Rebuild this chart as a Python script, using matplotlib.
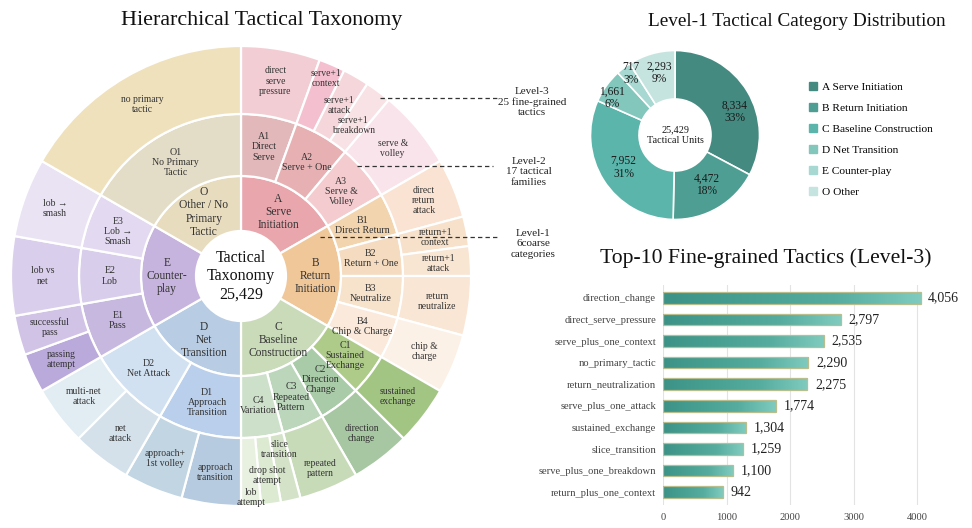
import numpy as np
import matplotlib
matplotlib.use("Agg")
import matplotlib.pyplot as plt
from matplotlib.lines import Line2D
from matplotlib.colors import LinearSegmentedColormap

plt.rcParams['font.family'] = ['Liberation Serif', 'DejaVu Serif']

# ---------------- data ----------------
l1_labels = ["A\nServe\nInitiation", "B\nReturn\nInitiation", "C\nBaseline\nConstruction",
             "D\nNet\nTransition", "E\nCounter-\nplay", "O\nOther / No\nPrimary\nTactic"]
l1_colors = ["#E9A6AD", "#F0C799", "#CADBBA", "#B8CCE4", "#C6B4DE", "#E8DCBE"]

l2_labels = [
    ["A1\nDirect\nServe", "A2\nServe + One", "A3\nServe &\nVolley"],
    ["B1\nDirect Return", "B2\nReturn + One", "B3\nNeutralize", "B4\nChip & Charge"],
    ["C1\nSustained\nExchange", "C2\nDirection\nChange", "C3\nRepeated\nPattern", "C4\nVariation"],
    ["D1\nApproach\nTransition", "D2\nNet Attack"],
    ["E1\nPass", "E2\nLob", "E3\nLob →\nSmash"],
    ["O1\nNo Primary\nTactic"],
]
l2_colors = [
    ["#E2B8BA", "#E7B1B4", "#F4CBCE"],
    ["#F2D4AE", "#F5DCC0", "#F7E2CB", "#FBEADB"],
    ["#AECB8A", "#A9CBA7", "#BBD6BA", "#CDE0CA"],
    ["#BACFEB", "#D2E1F1"],
    ["#C7B8E0", "#D8CDEB", "#E3DAF1"],
    ["#E3DCC6"],
]
l3_labels = [
    [["direct\nserve\npressure"], ["serve+1\ncontext", "serve+1\nattack", "serve+1\nbreakdown"], ["serve &\nvolley"]],
    [["direct\nreturn\nattack"], ["return+1\ncontext", "return+1\nattack"], ["return\nneutralize"], ["chip &\ncharge"]],
    [["sustained\nexchange"], ["direction\nchange"], ["repeated\npattern"], ["slice\ntransition", "drop shot\nattempt", "lob\nattempt"]],
    [["approach\ntransition", "approach+\n1st volley"], ["net\nattack", "multi-net\nattack"]],
    [["passing\nattempt", "successful\npass"], ["lob vs\nnet"], ["lob →\nsmash"]],
    [["no primary\ntactic"]],
]
l3_colors = [
    [["#F2CED4"], ["#F4C0CF", "#F5D6DB", "#F8E2E5"], ["#FAE4EB"]],
    [["#FAE3D2"], ["#F7E1CA", "#F8E5D2"], ["#F9E6D5"], ["#FCF1E7"]],
    [["#A3C584"], ["#A7C7A2"], ["#C8DBB9"], ["#D4E3C8", "#DDEAD2", "#E8F1E0"]],
    [["#B6CBE0", "#C2D5E3"], ["#D4E1EA", "#E2EDF3"]],
    [["#BAA9DB", "#D0C3E6"], ["#D9CEEB"], ["#EAE3F4"]],
    [["#F0E1BD"]],
]
total_units = 25429

cat_names = ["A Serve Initiation", "B Return Initiation", "C Baseline Construction",
             "D Net Transition", "E Counter-play", "O Other"]
cat_counts = [8334, 4472, 7952, 1661, 717, 2293]
cat_pcts = [33, 18, 31, 6, 3, 9]
cat_colors = ["#448A80", "#4E9E93", "#5CB5AA", "#82C6BC", "#A7D8D1", "#C6E4DF"]

top_tactics = ["direction_change", "direct_serve_pressure", "serve_plus_one_context",
               "no_primary_tactic", "return_neutralization", "serve_plus_one_attack",
               "sustained_exchange", "slice_transition", "serve_plus_one_breakdown",
               "return_plus_one_context"]
top_counts = [4056, 2797, 2535, 2290, 2275, 1774, 1304, 1259, 1100, 942]

# ---------------- figure ----------------
W, H = 972, 528
fig = plt.figure(figsize=(W / 100, H / 100), dpi=100)
fig.patch.set_facecolor("white")


def fx(x):
    return x / W


def fy(y):
    return 1 - y / H


txt = "#333333"

# ---------------- sunburst ----------------
cx, cy, R3 = 241, 276, 230
R0, R1, R2 = 45, 100, 162
ax1 = fig.add_axes([fx(cx - R3), fy(cy + R3), 2 * R3 / W, 2 * R3 / H])

s1, s2, s3, c2, c3, t2, t3 = [], [], [], [], [], [], []
for i in range(len(l1_labels)):
    share1 = 1.0 / len(l1_labels)
    s1.append(share1)
    for j, lab2 in enumerate(l2_labels[i]):
        share2 = share1 / len(l2_labels[i])
        s2.append(share2)
        c2.append(l2_colors[i][j])
        t2.append(lab2)
        for k, lab3 in enumerate(l3_labels[i][j]):
            s3.append(share2 / len(l3_labels[i][j]))
            c3.append(l3_colors[i][j][k])
            t3.append(lab3)

wp = dict(edgecolor="white", linewidth=1.6)
w1, _ = ax1.pie(s1, radius=R1, colors=l1_colors, startangle=90, counterclock=False,
                wedgeprops=dict(width=R1 - R0, **wp))
w2, _ = ax1.pie(s2, radius=R2, colors=c2, startangle=90, counterclock=False,
                wedgeprops=dict(width=R2 - R1, **wp))
w3, _ = ax1.pie(s3, radius=R3, colors=c3, startangle=90, counterclock=False,
                wedgeprops=dict(width=R3 - R2, **wp))
ax1.set_xlim(-R3, R3)
ax1.set_ylim(-R3, R3)
ax1.set_aspect("equal")
ax1.axis("off")


def put(ax, wedge, r, label, size, dang=0.0):
    a = np.deg2rad((wedge.theta1 + wedge.theta2) / 2 + dang)
    ax.text(r * np.cos(a), r * np.sin(a), label, ha="center", va="center",
            fontsize=size, color=txt, linespacing=1.15)


for w, lab in zip(w1, l1_labels):
    put(ax1, w, 74, lab, 8.3)
for w, lab in zip(w2, t2):
    put(ax1, w, 131, lab, 7.1)
r3_special = {"serve+1\ncontext": 215, "serve+1\nattack": 197, "serve+1\nbreakdown": 188,
              "slice\ntransition": 178, "drop shot\nattempt": 201, "lob\nattempt": 222,
              "repeated\npattern": 208}
for w, lab in zip(w3, t3):
    put(ax1, w, r3_special.get(lab, 198), lab, 6.9)

ax1.text(0, 0, "Tactical\nTaxonomy\n" + f"{total_units:,}", ha="center", va="center",
         fontsize=11.5, color="#111111", linespacing=1.2)

fig.text(fx(262), fy(21), "Hierarchical Tactical Taxonomy", ha="center", va="center",
         fontsize=15.8, color="#111111")

# annotation lines
for (x0, x1, y), (tx, ty), t in [
    ((380, 497, 98), (532, 102), "Level-3\n25 fine-grained\ntactics"),
    ((357, 493, 166), (529, 172), "Level-2\n17 tactical\nfamilies"),
    ((320, 498, 237), (533, 244), "Level-1\n6coarse\ncategories"),
]:
    fig.add_artist(Line2D([fx(x0), fx(x1)], [fy(y), fy(y)], transform=fig.transFigure,
                          color="#333333", lw=0.9, ls=(0, (3.5, 2.5))))
    fig.text(fx(tx), fy(ty), t, ha="center", va="center", fontsize=8.0, color="#222222",
             linespacing=1.2)

# ---------------- donut ----------------
dcx, dcy, dR, dr = 675, 135, 84.5, 36
ax2 = fig.add_axes([fx(dcx - dR), fy(dcy + dR), 2 * dR / W, 2 * dR / H])
wd, _ = ax2.pie(cat_counts, radius=1, colors=cat_colors, startangle=90, counterclock=False,
                wedgeprops=dict(width=1 - dr / dR, edgecolor="white", linewidth=1.2))
ax2.set_xlim(-1, 1)
ax2.set_ylim(-1, 1)
ax2.set_aspect("equal")
ax2.axis("off")
label_place = [(-10, 0.76), (2, 0.70), (0, 0.72), (5, 0.86), (-2, 0.90), (-2, 0.76)]
for w, v, p, (da, r) in zip(wd, cat_counts, cat_pcts, label_place):
    a = np.deg2rad((w.theta1 + w.theta2) / 2 + da)
    ax2.text(r * np.cos(a), r * np.sin(a), f"{v:,}\n{p}%", ha="center", va="center",
             fontsize=8.3, color="#1a1a1a", linespacing=1.1)
ax2.text(0, 0, f"{total_units:,}\nTactical Units", ha="center", va="center",
         fontsize=7.3, color="#1a1a1a", linespacing=1.25)

handles = [Line2D([], [], marker="s", ls="none", color=c, markersize=5.5) for c in cat_colors]
fig.legend(handles, cat_names, loc="upper left", bbox_to_anchor=(fx(809), fy(82)),
           frameon=False, fontsize=8.2, handlelength=0.7, handletextpad=0.4,
           borderpad=0, borderaxespad=0, labelspacing=0.97)
fig.text(fx(797), fy(21), "Level-1 Tactical Category Distribution", ha="center",
         va="center", fontsize=13.9, color="#111111")

# ---------------- bar chart ----------------
px_per = 254 / 4000
ax3 = fig.add_axes([fx(663), fy(505), 286 / W, 220 / H])
ypos = np.arange(len(top_tactics))
bars = ax3.barh(ypos, top_counts, height=0.54, facecolor="none", edgecolor="#B9BE8F",
                linewidth=0.9, zorder=3)
cmap = LinearSegmentedColormap.from_list("tealgrad", ["#3C9286", "#48A093", "#55AC9F", "#80CBBF"])
grad = np.linspace(0, 1, 256).reshape(1, -1)
for b in bars:
    xb, yb, wb, hb = b.get_x(), b.get_y(), b.get_width(), b.get_height()
    im = ax3.imshow(grad, extent=[xb, xb + wb, yb, yb + hb], aspect="auto", cmap=cmap,
                    origin="lower", zorder=2, interpolation="bilinear")
    im.set_clip_path(b)
for yv, v in zip(ypos, top_counts):
    ax3.text(v + 120, yv, f"{v:,}", va="center", ha="left", fontsize=10, color="#222222")
ax3.set_xlim(0, 286 / px_per)
ax3.set_ylim(len(top_tactics) - 0.4, -0.6)
ax3.set_xticks([0, 1000, 2000, 3000, 4000])
ax3.set_yticks(ypos)
ax3.set_yticklabels(top_tactics)
ax3.tick_params(axis="both", length=0, labelsize=7.6, colors="#444444")
ax3.tick_params(axis="y", pad=5)
ax3.tick_params(axis="x", pad=6)
for s in ax3.spines.values():
    s.set_visible(False)
ax3.grid(axis="x", color="#E3E3E3", lw=0.8, zorder=0)
ax3.set_axisbelow(True)
fig.text(fx(766), fy(258), "Top-10 Fine-grained Tactics (Level-3)", ha="center",
         va="center", fontsize=15.6, color="#111111")

fig.savefig("out.png", dpi=100, facecolor="white")
